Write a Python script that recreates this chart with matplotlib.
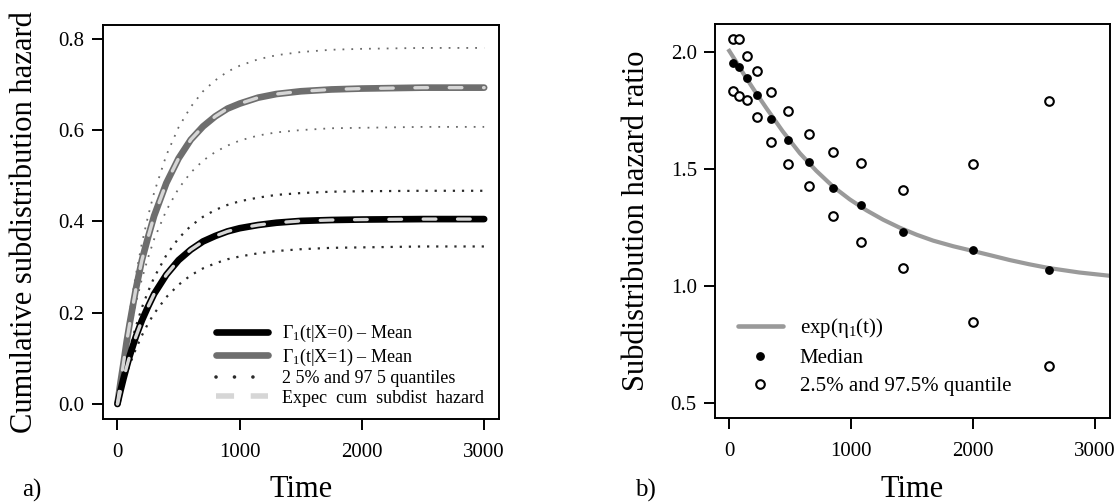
import matplotlib
matplotlib.use('Agg')
from matplotlib import pyplot as plt
from matplotlib.lines import Line2D

plt.rcParams['font.family'] = ['Liberation Serif', 'DejaVu Serif']
plt.rcParams['mathtext.fontset'] = 'custom'
plt.rcParams['mathtext.rm'] = 'Liberation Serif'
plt.rcParams['mathtext.it'] = 'Liberation Serif:italic'

# ---- panel a) cumulative subdistribution hazard (values read off the figure)
time_a = [0, 25, 50, 75, 100, 150, 200, 250, 300, 400, 500, 600, 700, 800, 900, 1000,
          1150, 1300, 1500, 1750, 2000, 2500, 3000]
mean_x0 = [0, 0.029, 0.056, 0.081, 0.105, 0.147, 0.183, 0.213, 0.241, 0.283, 0.315, 0.338,
           0.356, 0.368, 0.378, 0.385, 0.392, 0.397, 0.401, 0.403, 0.404, 0.405, 0.405]
mean_x1 = [0, 0.047, 0.090, 0.136, 0.176, 0.251, 0.315, 0.365, 0.412, 0.484, 0.538, 0.579,
           0.608, 0.630, 0.647, 0.658, 0.671, 0.679, 0.685, 0.689, 0.691, 0.693, 0.693]
q_hi_x1 = [0, 0.056, 0.108, 0.157, 0.202, 0.282, 0.352, 0.411, 0.463, 0.545, 0.606, 0.651,
           0.685, 0.709, 0.728, 0.741, 0.755, 0.764, 0.771, 0.776, 0.778, 0.780, 0.780]
q_lo_x1 = [0, 0.044, 0.084, 0.122, 0.157, 0.220, 0.274, 0.320, 0.361, 0.424, 0.472, 0.507,
           0.533, 0.552, 0.566, 0.577, 0.588, 0.595, 0.600, 0.604, 0.605, 0.607, 0.607]
q_hi_x0 = [0, 0.034, 0.065, 0.094, 0.121, 0.169, 0.211, 0.246, 0.277, 0.326, 0.363, 0.390,
           0.410, 0.425, 0.436, 0.444, 0.452, 0.458, 0.462, 0.465, 0.466, 0.467, 0.467]
q_lo_x0 = [0, 0.024, 0.046, 0.067, 0.086, 0.120, 0.150, 0.176, 0.198, 0.234, 0.261, 0.282,
           0.297, 0.308, 0.317, 0.323, 0.330, 0.335, 0.339, 0.342, 0.343, 0.345, 0.345]
expec_x0 = mean_x0
expec_x1 = mean_x1

# ---- panel b) subdistribution hazard ratio
time_curve = [0, 60, 115, 200, 307, 440, 580, 715, 854, 990, 1128, 1265, 1401, 1540,
              1675, 1840, 2000, 2150, 2305, 2465, 2625, 2875, 3125]
exp_eta = [2.004, 1.955, 1.908, 1.840, 1.758, 1.660, 1.567, 1.492, 1.424, 1.370, 1.323,
           1.283, 1.249, 1.219, 1.194, 1.170, 1.150, 1.131, 1.111, 1.093, 1.077, 1.058, 1.044]
time_pts = [28, 82, 143, 230, 342, 479, 654, 854, 1079, 1423, 2001, 2625]
median = [1.953, 1.936, 1.889, 1.815, 1.714, 1.623, 1.529, 1.420, 1.347, 1.230, 1.154, 1.070]
q975 = [2.054, 2.054, 1.982, 1.919, 1.827, 1.748, 1.649, 1.573, 1.526, 1.410, 1.521, 1.791]
q025 = [1.834, 1.812, 1.793, 1.720, 1.616, 1.522, 1.427, 1.299, 1.188, 1.076, 0.848, 0.659]

fig = plt.figure(figsize=(11.17, 5.03), dpi=100)
ax1 = fig.add_axes([0.0918, 0.167, 0.355, 0.784])
ax2 = fig.add_axes([0.640, 0.169, 0.3536, 0.783])

dot_gray = dict(color='#6a6a6a', lw=1.3, linestyle=(0, (1, 3.9)))
dot_dark = dict(color='#2a2a2a', lw=1.6, linestyle=(0, (1, 3.1)))
ax1.plot(time_a, q_hi_x1, **dot_gray)
ax1.plot(time_a, q_lo_x1, **dot_gray)
ax1.plot(time_a, q_hi_x0, **dot_dark)
ax1.plot(time_a, q_lo_x0, **dot_dark)
ax1.plot(time_a, mean_x1, color='#6e6e6e', lw=4.8, solid_capstyle='round')
ax1.plot(time_a, mean_x0, color='black', lw=4.8, solid_capstyle='round')
for e in (expec_x1, expec_x0):
    ax1.plot(time_a, e, color='#d6d6d6', lw=2.4, linestyle=(0, (3.8, 6.5)), dash_capstyle='round')

ax1.set_xlim(-122, 3122)
ax1.set_ylim(-0.033, 0.831)
ax1.set_xticks([0, 1000, 2000, 3000])
ax1.set_yticks([0.0, 0.2, 0.4, 0.6, 0.8])
ax1.set_yticklabels(['0.0', '0.2', '0.4', '0.6', '0.8'])

handles_a = [
    Line2D([], [], color='black', lw=4.8, solid_capstyle='round'),
    Line2D([], [], color='#6e6e6e', lw=4.8, solid_capstyle='round'),
    Line2D([], [], color='#2a2a2a', lw=2.6, linestyle=(0, (0.01, 5.1)), dash_capstyle='round'),
    Line2D([], [], color='#d6d6d6', lw=4.0, linestyle=(0, (3.25, 3.0))),
]
labels_a = ['Γ$_1$(t|X=0) – Mean', 'Γ$_1$(t|X=1) – Mean',
            '2 5% and 97 5 quantiles', 'Expec  cum  subdist  hazard']
ax1.legend(handles_a, labels_a, loc='lower left', bbox_to_anchor=(0.285, 0.031),
           frameon=False, fontsize=13, handlelength=2.92, handletextpad=0.74,
           labelspacing=0.14, borderpad=0, borderaxespad=0)

ax2.plot(time_curve, exp_eta, color='#9a9a9a', lw=3.0)
ax2.plot(time_pts, median, 'o', color='black', ms=5.3, mec='black')
ax2.plot(time_pts, q975, 'o', mfc='white', mec='black', mew=1.5, ms=6.2, ls='none')
ax2.plot(time_pts, q025, 'o', mfc='white', mec='black', mew=1.5, ms=6.2, ls='none')
ax2.set_xlim(-118, 3126)
ax2.set_ylim(0.437, 2.118)
ax2.set_xticks([0, 1000, 2000, 3000])
ax2.set_yticks([0.5, 1.0, 1.5, 2.0])
ax2.set_yticklabels(['0.5', '1.0', '1.5', '2.0'])

handles_b = [
    Line2D([], [], color='#9a9a9a', lw=3.3, solid_capstyle='round'),
    Line2D([], [], marker='o', color='black', ms=5.3, ls='none'),
    Line2D([], [], marker='o', mfc='white', mec='black', mew=1.5, ms=6.2, ls='none'),
]
labels_b = ['exp(η$_1$(t))', 'Median', '2.5% and 97.5% quantile']
ax2.legend(handles_b, labels_b, loc='lower left', bbox_to_anchor=(0.058, 0.055),
           frameon=False, fontsize=15, handlelength=2.16, handletextpad=0.82,
           labelspacing=0.4, borderpad=0, borderaxespad=0, numpoints=1)

for ax in (ax1, ax2):
    for s in ax.spines.values():
        s.set_linewidth(1.4)
    ax.tick_params(direction='out', length=8, width=1.4, labelsize=15, color='black')
    ax.tick_params(axis='x', pad=9.5)
    ax.tick_params(axis='y', pad=5)

fig.text(0.2692, 0.026, 'Time', fontsize=22, ha='center', va='center')
fig.text(0.8169, 0.026, 'Time', fontsize=22, ha='center', va='center')
fig.text(0.0215, 0.559, 'Cumulative subdistribution hazard', fontsize=22,
         rotation=90, ha='center', va='center')
fig.text(0.570, 0.561, 'Subdistribution hazard ratio', fontsize=22,
         rotation=90, ha='center', va='center')
fig.text(0.0286, 0.024, 'a)', fontsize=18, ha='center', va='center')
fig.text(0.578, 0.024, 'b)', fontsize=18, ha='center', va='center')

fig.savefig('out.png', dpi=100)
